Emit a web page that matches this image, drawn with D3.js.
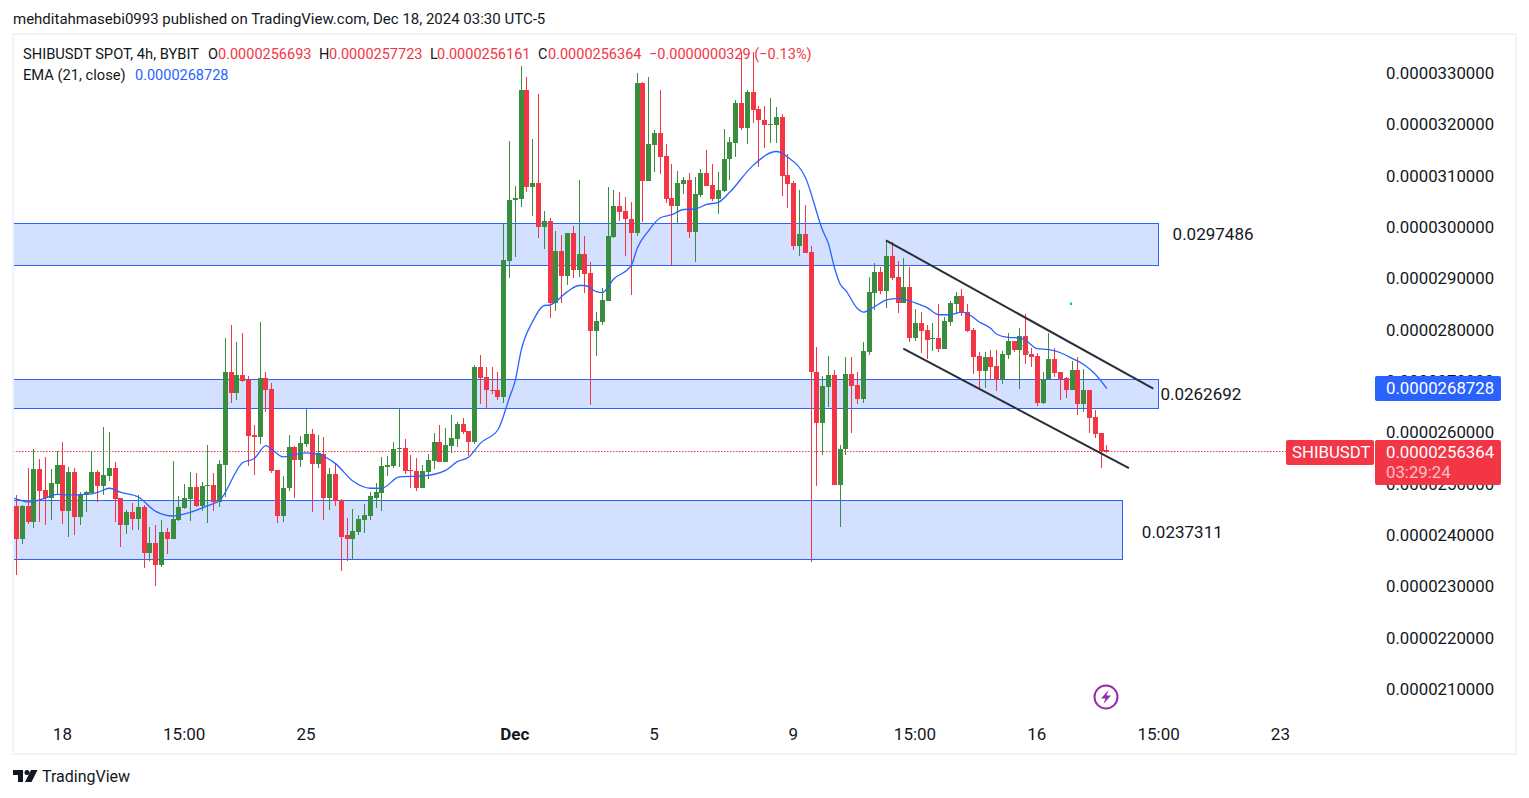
<!DOCTYPE html>
<html><head><meta charset="utf-8">
<script src="https://cdn.jsdelivr.net/npm/d3@7/dist/d3.min.js"></script>
<style>html,body{margin:0;padding:0;background:#fff;overflow:hidden}svg{display:block}text{font-family:Roboto,sans-serif}</style>
</head><body><svg id="c" width="1529" height="798"></svg>
<script>
// prices are in units of 0.0000001
const open=[245.9,239.4,245.9,242.7,253.0,248.9,247.5,250.2,253.9,244.8,252.4,243.7,248.0,248.4,252.4,249.8,251.6,253.2,247.5,242.1,244.6,243.4,245.7,236.6,238.7,234.4,240.7,239.5,243.2,245.4,247.3,249.6,245.9,249.8,250.0,246.7,253.9,272.0,267.8,271.3,270.4,259.6,259.2,270.7,268.7,252.8,243.8,249.3,257.4,254.9,258.0,259.8,254.1,255.9,247.5,252.0,247.1,240.1,239.5,240.7,243.2,243.8,247.5,248.3,253.5,253.7,257.0,257.2,252.8,252.6,249.3,252.4,254.7,258.4,254.5,257.6,258.8,261.9,260.4,258.4,273.0,270.9,268.5,268.4,267.0,293.5,305.4,305.7,326.8,307.9,308.7,300.1,301.3,285.3,295.6,290.7,299.1,291.9,295.0,291.3,280.0,281.6,285.7,298.3,304.2,303.4,301.8,299.1,328.3,309.1,316.1,318.6,314.1,305.9,304.2,308.5,309.3,299.3,306.5,310.8,308.3,305.7,307.3,313.4,316.5,324.4,319.4,326.4,323.1,321.1,320.0,320.0,321.7,310.4,308.7,296.4,298.9,295.4,272.0,262.1,269.1,271.3,250.0,256.9,271.6,269.5,266.6,275.9,287.4,291.5,287.8,294.6,290.4,285.3,288.6,278.5,281.4,280.2,278.3,278.5,276.5,281.6,285.1,286.7,283.7,280.2,275.0,272.1,274.8,273.2,270.5,275.2,277.9,276.3,278.9,275.4,275.0,266.0,270.5,274.4,271.9,270.7,268.5,272.4,265.8,268.4,263.1,260.0,256.693];
const close=[239.4,245.9,242.7,253.0,248.7,247.5,250.4,253.9,244.8,252.4,243.7,248.2,248.6,252.4,249.8,251.8,253.2,247.3,242.1,244.6,243.4,245.7,236.6,238.7,234.4,240.7,239.5,243.4,245.6,247.5,249.6,245.9,249.8,250.0,246.7,254.1,272.0,267.8,271.3,270.1,259.4,259.3,270.7,268.5,252.6,243.8,249.4,257.4,254.9,258.2,259.8,254.1,256.1,247.5,252.0,246.9,239.9,239.5,240.9,243.4,244.0,247.7,248.5,253.7,253.9,257.0,257.2,252.6,252.6,249.3,252.6,254.9,258.4,254.5,257.8,259.0,261.9,260.2,258.4,273.0,270.7,268.4,268.4,267.0,293.7,305.5,305.9,326.8,307.9,308.7,300.1,301.3,285.3,295.6,290.7,299.1,291.9,295.0,291.1,280.0,281.8,285.9,298.5,304.2,303.2,301.7,299.1,328.3,309.1,316.3,318.6,313.9,305.7,304.2,308.7,309.3,299.3,306.7,310.8,308.1,305.7,307.5,313.5,316.7,324.4,319.4,326.4,322.9,321.0,320.0,320.2,321.7,310.2,308.5,296.4,298.9,295.2,271.9,262.1,269.3,271.3,250.0,257.0,271.6,269.3,266.6,276.1,287.6,291.5,287.8,294.6,290.2,285.3,288.6,278.5,281.4,280.0,278.1,278.5,276.5,281.8,285.3,286.7,283.5,280.0,274.8,272.1,274.8,273.0,270.3,275.4,277.9,276.3,278.9,275.2,274.8,266.0,270.5,274.4,271.7,270.5,268.5,272.4,265.8,268.4,262.9,259.8,256.5,256.364];
const high=[248.0,246.1,253.3,257.0,255.0,255.3,253.0,256.6,258.3,253.5,253.3,248.6,248.8,256.6,252.9,261.3,260.3,254.4,247.5,245.0,246.5,248.0,246.0,241.7,242.1,243.2,241.5,254.6,247.7,250.2,252.5,252.3,250.5,257.8,252.3,254.8,278.5,281.2,277.8,279.6,271.2,261.7,281.7,271.9,269.9,252.8,251.6,259.6,257.6,259.4,264.8,260.8,259.6,259.2,253.3,254.1,247.3,243.6,245.2,244.0,246.3,248.5,250.4,255.3,255.5,258.4,265.0,258.8,255.7,255.1,253.9,256.0,260.0,261.7,261.1,263.5,262.3,262.9,260.4,273.4,275.2,273.0,273.0,272.0,301.0,317.0,308.1,331.6,329.5,317.4,326.2,303.4,302.0,299.5,298.7,299.1,300.3,309.4,298.5,293.3,283.7,288.4,307.9,307.5,307.1,306.0,305.0,330.1,328.5,329.5,319.0,326.8,316.3,312.4,311.2,310.0,310.8,310.0,311.4,315.1,312.4,311.0,319.2,317.8,325.0,334.2,326.8,334.2,323.7,323.7,325.4,323.5,322.3,314.5,309.1,307.5,304.4,296.4,276.9,271.1,275.0,272.4,257.8,274.8,274.8,271.9,277.7,290.4,293.1,292.5,297.6,297.2,293.5,294.1,292.5,284.3,283.7,281.2,281.4,285.1,282.6,285.7,287.6,288.2,285.1,280.6,275.8,275.8,276.3,276.3,276.0,279.6,277.9,280.6,283.2,276.7,275.6,271.9,279.5,276.7,272.0,270.9,274.0,274.8,272.6,268.4,264.5,260.0,257.723];
const low=[232.5,238.4,242.4,241.5,242.7,242.1,243.1,248.2,242.3,239.8,240.2,242.1,244.6,248.4,246.6,247.9,250.8,242.7,237.8,240.4,241.1,241.1,233.7,235.1,230.2,233.9,236.4,239.5,243.0,245.2,242.9,245.6,244.8,242.5,244.8,245.6,247.6,265.9,266.4,270.0,253.7,251.8,258.0,264.1,252.2,242.6,242.8,248.7,247.5,253.5,257.4,244.6,253.2,243.2,245.0,245.8,233.1,235.2,235.4,240.1,240.5,243.2,245.4,244.8,251.6,253.2,253.5,252.0,249.3,248.7,249.3,251.2,253.0,254.5,254.5,256.1,257.4,259.8,255.5,258.0,265.8,264.8,267.6,266.4,265.9,290.2,294.3,304.0,307.1,302.4,298.1,296.0,282.4,283.9,285.3,288.8,290.2,290.4,287.4,265.6,275.0,281.2,285.7,298.0,301.3,294.6,287.0,298.5,301.1,309.1,311.0,310.6,304.8,292.7,300.8,306.7,298.0,293.3,306.1,308.1,305.2,302.8,307.1,309.4,313.9,319.0,316.3,320.4,311.8,315.5,316.6,316.6,306.3,303.8,295.8,294.6,295.2,235.0,249.8,255.7,265.2,250.0,241.7,255.7,260.0,265.8,266.0,275.2,284.1,287.2,284.5,289.8,283.5,285.3,277.7,277.9,275.7,274.4,276.1,275.9,276.5,281.0,283.3,282.8,279.8,271.5,268.4,268.9,270.5,268.2,269.7,274.4,275.8,268.7,273.6,273.0,265.4,265.8,270.3,270.9,266.4,266.8,268.4,263.5,264.1,260.0,259.0,253.2,256.161];
const emaIndex=[-1,0,2,5,7,9,12,14,16,18,21,24,27,29,33,35,39,41,43,44,46,48,50,52,55,58,61,63,66,70,74,76,78,80,83,85,86,87,89,91,92,95,97,98,100,101,103,106,107,109,111,113,115,117,119,121,123,127,131,133,136,139,140,141,142,143,145,146,148,150,152,155,157,159,161,163,164,166,168,169,171,173,174,176,178,180,182,184,186,188];
const emaValue=[247.4,247.2,246.6,247.4,248.1,248.0,248.1,248.5,249.3,248.5,247.6,244.8,243.9,244.3,245.9,246.9,254.3,255.1,257.6,256.9,255.4,255.9,256.2,255.9,254.1,250.7,249.3,249.3,251.5,251.7,252.8,254.5,255.4,258.1,260.7,267.0,270.3,276.1,281.8,284.9,285.0,287.6,288.8,288.8,287.6,287.4,290.1,292.7,296.0,299.5,302.0,302.6,303.6,303.7,304.6,305.0,307.0,312.2,314.9,313.8,309.9,299.5,296.9,292.4,289.1,287.8,284.3,283.6,284.7,286.0,286.3,285.4,284.5,283.1,283.1,283.6,283.3,281.7,280.4,279.3,278.7,278.6,278.1,276.5,276.3,275.7,274.6,273.4,271.5,268.7];
const zoneTop=[301.0,270.5,247.0];
const zoneBottom=[292.7,264.9,235.6];
const zoneEnd=[196.9,196.9,190.8];
const zoneLabels=["0.0297486","0.0262692","0.0237311"];
const zoneLabelIndex=[206.3,204.2,201.0];
const zoneLabelPrice=[298.8,267.7,240.8];
const trendStart=[149.9,152.9];
const trendEnd=[196,191.8];
const trendStartPrice=[297.6,276.5];
const trendEndPrice=[268.7,253.2];
const dotIndex=[181.8,173.3,174.4];
const dotPrice=[285.3,277.0,275.8];
const yTicks=[210,220,230,240,250,260,270,280,290,300,310,320,330];
const xTickIndex=[8,29,50,86,110,134,155,176,197,218];
const xTickLabels=["18","15:00","25","Dec","5","9","15:00","16","15:00","23"];
const lastPrice=256.364, emaLast=268.728;
const GREEN="#388e3c",RED="#f23645",BLUE="#2962ff",INK="#131722";

const svg=d3.select("#c");
const x=d3.scaleLinear().domain([0,218]).range([16.5,16.5+5.8*218]);
const y=d3.scaleLinear().domain([210,330]).range([690,74]);
const fmt=v=>(v*1e-7).toFixed(10);
const col=i=>Math.round(x(i)-0.5);

svg.append("defs").append("clipPath").attr("id","pane").append("rect").attr("x",13).attr("y",35).attr("width",1502).attr("height",718);
const pane=svg.append("g").attr("clip-path","url(#pane)");

// zones
pane.append("g").selectAll("rect").data(zoneTop).join("rect")
 .attr("x",0).attr("width",(d,i)=>Math.round(x(zoneEnd[i]))-.5)
 .attr("y",d=>Math.round(y(d))+.5).attr("height",(d,i)=>Math.round(y(zoneBottom[i]))-Math.round(y(d)))
 .attr("fill","#d4e0ff").attr("stroke",BLUE).attr("stroke-width",1);

// last price line
pane.append("line").attr("x1",13).attr("x2",1286).attr("y1",Math.floor(y(lastPrice))+.5).attr("y2",Math.floor(y(lastPrice))+.5)
 .attr("stroke",RED).attr("stroke-width",1).attr("stroke-dasharray","1.5 1.5");

// candles
const idx=d3.range(open.length);
const cg=pane.append("g");
cg.selectAll("rect.w").data(idx).join("rect").attr("class","w")
 .attr("x",col).attr("width",1)
 .attr("y",i=>Math.round(y(high[i]))).attr("height",i=>Math.max(1,Math.round(y(low[i]))-Math.round(y(high[i]))))
 .attr("fill",i=>close[i]>=open[i]?GREEN:RED);
cg.selectAll("rect.b").data(idx).join("rect").attr("class","b")
 .attr("x",i=>col(i)-2).attr("width",5)
 .attr("y",i=>Math.round(y(Math.max(open[i],close[i]))))
 .attr("height",i=>Math.max(1,Math.round(y(Math.min(open[i],close[i])))-Math.round(y(Math.max(open[i],close[i])))))
 .attr("fill",i=>close[i]>=open[i]?GREEN:RED);

// EMA
pane.append("path").datum(emaIndex).attr("fill","none").attr("stroke",BLUE).attr("stroke-width",1.3)
 .attr("d",d3.line().x(i=>x(i)).y((i,k)=>y(emaValue[k])).curve(d3.curveMonotoneX));

// trend lines
pane.append("g").selectAll("line").data(trendStart).join("line")
 .attr("x1",d=>x(d)).attr("x2",(d,i)=>x(trendEnd[i]))
 .attr("y1",(d,i)=>y(trendStartPrice[i])).attr("y2",(d,i)=>y(trendEndPrice[i]))
 .attr("stroke","#2a2e39").attr("stroke-width",2);

// dots
pane.append("g").selectAll("rect").data(dotIndex).join("rect")
 .attr("x",d=>x(d)-1).attr("y",(d,i)=>y(dotPrice[i])-1).attr("width",2).attr("height",2).attr("fill","#00bcd4");
svg.append("rect").attr("x",1070).attr("y",303).attr("width",2).attr("height",2).attr("fill","#00bcd4");

// zone labels
svg.append("g").selectAll("text").data(zoneLabels).join("text")
 .attr("x",(d,i)=>x(zoneLabelIndex[i])).attr("y",(d,i)=>y(zoneLabelPrice[i]))
 .attr("text-anchor","middle").attr("dy","0.35em").attr("font-size",17).attr("fill",INK).text(d=>d);

// frame
svg.append("rect").attr("x",13).attr("y",34).attr("width",1503).attr("height",720).attr("fill","none").attr("stroke","#f0f3fa").attr("stroke-width",2);

// axes
const ya=svg.append("g").attr("transform","translate(1381,-1)")
 .call(d3.axisRight(y).tickValues(yTicks).tickSize(0).tickPadding(5).tickFormat(fmt));
ya.select(".domain").remove();
ya.selectAll("text").attr("font-size",16.8).attr("fill",INK).style("font-family","Roboto");
const xa=svg.append("g").attr("transform","translate(-1,727.5)")
 .call(d3.axisBottom(x).tickValues(xTickIndex).tickSize(0).tickPadding(0).tickFormat((d,i)=>xTickLabels[i]));
xa.select(".domain").remove();
xa.selectAll("text").attr("font-size",17).attr("fill",INK).style("font-family","Roboto").attr("font-weight",(d,i)=>xTickLabels[i]==="Dec"?700:400);

// price tags
svg.append("rect").attr("x",1375).attr("y",376).attr("width",126).attr("height",25).attr("rx",2).attr("fill",BLUE);
svg.append("text").attr("x",1386).attr("y",388.5).attr("dy","0.35em").attr("font-size",16.8).attr("fill","#fff").text(fmt(emaLast));
svg.append("rect").attr("x",1286).attr("y",440).attr("width",88).attr("height",25).attr("rx",2).attr("fill",RED);
svg.append("text").attr("x",1292).attr("y",452.5).attr("dy","0.35em").attr("font-size",16.8).attr("fill","#fff").text("SHIBUSDT");
svg.append("rect").attr("x",1375).attr("y",440).attr("width",126).attr("height",45).attr("rx",2).attr("fill",RED);
svg.append("text").attr("x",1386).attr("y",452.5).attr("dy","0.35em").attr("font-size",16.8).attr("fill","#fff").text(fmt(lastPrice));
svg.append("text").attr("x",1386).attr("y",472.5).attr("dy","0.35em").attr("font-size",16.8).attr("fill","#fff").attr("fill-opacity",.7).text("03:29:24");

// header + legend
const t=(s,px,py,c,fs)=>svg.append("text").attr("x",px).attr("y",py).attr("dy","0.35em").attr("font-size",fs||14.5).attr("fill",c||INK).text(s);
t("mehditahmasebi0993 published on TradingView.com, Dec 18, 2024 03:30 UTC-5",13,19,INK,15);
t("SHIBUSDT SPOT, 4h, BYBIT",23,54,INK,14.7);
t("O",208,54);t("0.0000256693",218,54,RED);
t("H",319,54);t("0.0000257723",329,54,RED);
t("L",430,54);t("0.0000256161",437,54,RED);
t("C",538,54);t("0.0000256364",548,54,RED);
t("−0.0000000329 (−0.13%)",649,54,RED);
t("EMA (21, close)",23,75,INK,14.7);
t("0.0000268728",135,75,BLUE);

// lightning icon
const ic=svg.append("g").attr("transform","translate(1106,697)");
ic.append("circle").attr("r",11.5).attr("fill","#fff").attr("stroke","#9c27b0").attr("stroke-width",2);
ic.append("path").attr("d","M2.5,-7 L-5,1.5 L-0.5,1.5 L-2.5,7 L5,-1.5 L0.5,-1.5 Z").attr("fill","#9c27b0");

// TradingView logo
svg.append("path").attr("d","M13,770 H23 V782 H18 V775 H13 Z M31,770 H37.5 L31.5,782 H25 Z").attr("fill",INK);
svg.append("circle").attr("cx",27).attr("cy",772.5).attr("r",2.5).attr("fill",INK);
t("TradingView",42,776,INK,16);
</script></body></html>
